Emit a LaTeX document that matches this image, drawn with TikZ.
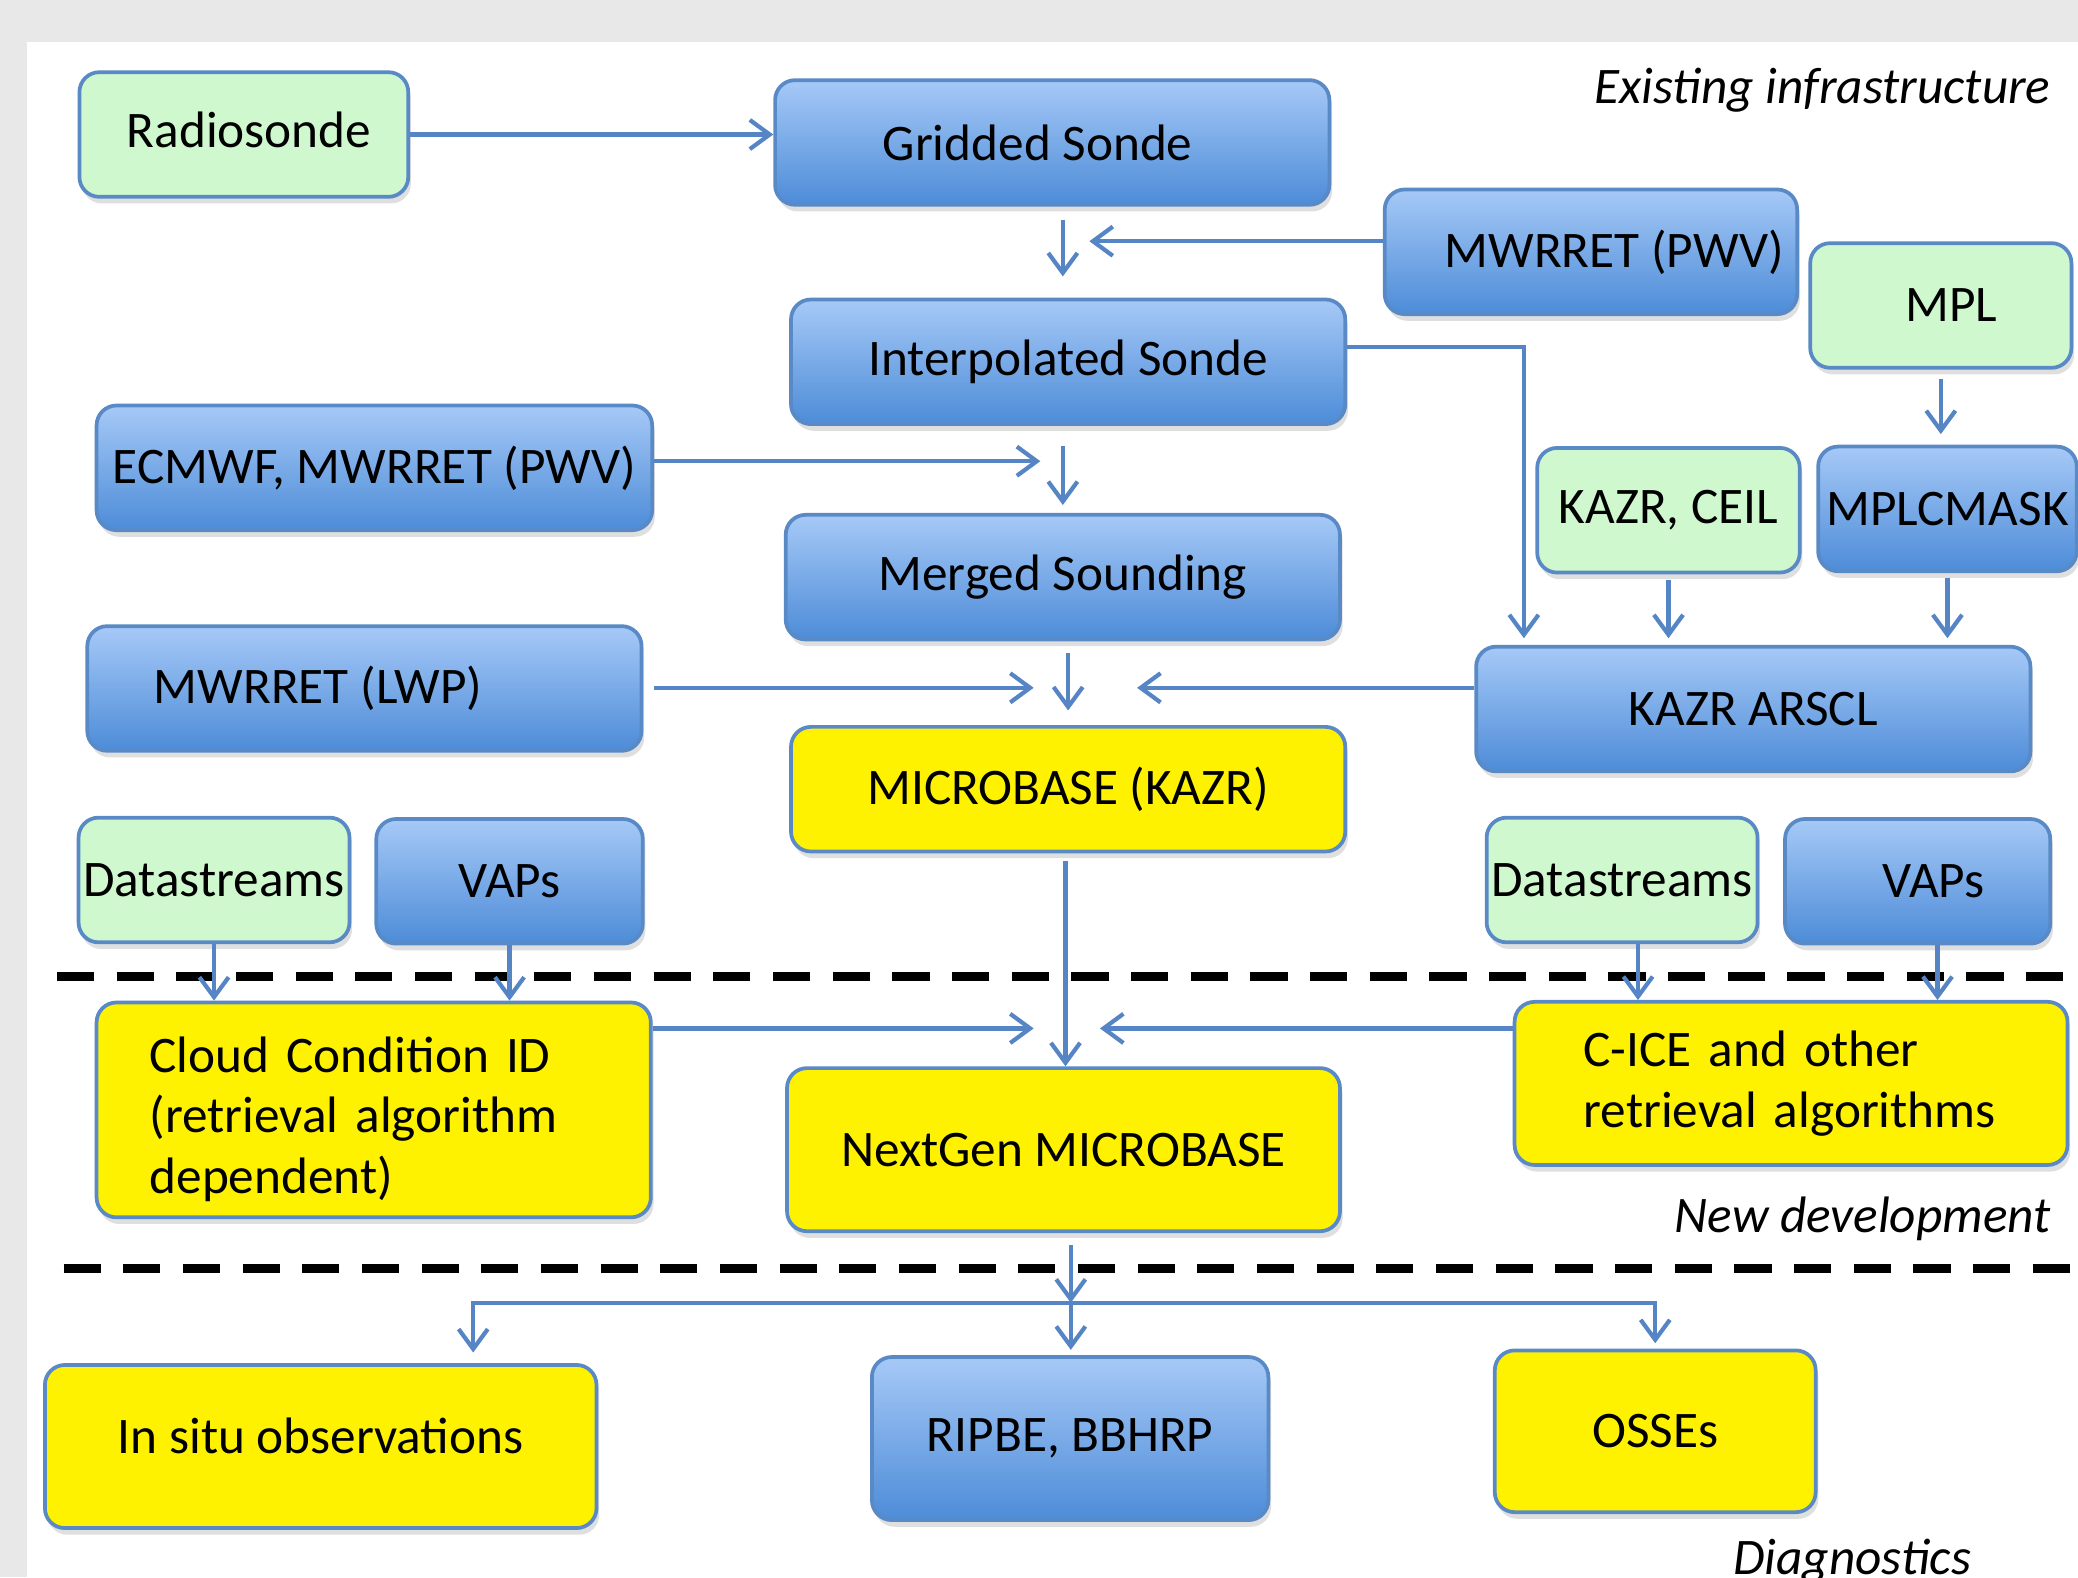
\documentclass[tikz,border=0pt]{standalone}
\usepackage{fontspec}
\setmainfont{Carlito}
\usetikzlibrary{arrows.meta,shadows}

\definecolor{boxedge}{HTML}{5A8AC6}
\definecolor{bluetop}{HTML}{A6C9F7}
\definecolor{bluebot}{HTML}{4D8CD8}
\definecolor{greenfill}{HTML}{CFF8CF}
\definecolor{flow}{HTML}{5585C5}
\definecolor{framegray}{HTML}{E8E8E8}

\begin{document}
\begin{tikzpicture}[x=0.01cm,y=-0.01cm,
  font=\fontsize{11}{13}\selectfont,
  box/.style={rectangle,rounded corners=0.15cm,draw=boxedge,line width=0.8pt,align=center,inner xsep=1pt,minimum height=0.94cm,drop shadow={opacity=0.25,shadow xshift=0.02cm,shadow yshift=-0.05cm}},
  vap/.style={box,top color=bluetop,bottom color=bluebot},
  stream/.style={box,fill=greenfill},
  product/.style={box,fill=yellow},
  arrow/.style={-{Straight Barb[length=1.5mm,width=2.2mm]},line width=0.9pt,draw=flow},
  divider/.style={line width=2pt,dash pattern=on 0.28cm off 0.17cm},
  note/.style={font=\fontsize{11}{13}\selectfont\itshape,anchor=east,inner sep=0pt}
]

% Rahmen
\useasboundingbox (0,0) rectangle (1568,1190);
\fill[framegray] (0,0) rectangle (1568,1190);
\fill[white] (20,32) rectangle (1568,1190);

% Existing infrastructure
\node[stream,minimum width=2.48cm] (radio) at (184,101.5) {\hspace*{0.08cm}\raisebox{0.08cm}{Radiosonde}};
\node[vap,minimum width=4.18cm] (gridded) at (794,107.5) {Gridded Sonde\hspace*{0.22cm}};
\node[vap,minimum width=3.11cm] (mwrpwv) at (1200.5,190) {\hspace*{0.35cm}MWRRET (PWV)};
\node[stream,minimum width=1.97cm] (mpl) at (1464.5,230.5) {\hspace*{0.16cm}MPL};
\node[vap,minimum width=4.18cm] (interp) at (806,273) {Interpolated Sonde};
\node[vap,minimum width=4.19cm] (ecmwf) at (282.5,353) {ECMWF, MWRRET (PWV)};
\node[stream,minimum width=1.98cm] (kazrceil) at (1259,385) {KAZR, CEIL};
\node[vap,minimum width=1.95cm] (mplcmask) at (1469.5,384) {MPLCMASK};
\node[vap,minimum width=4.18cm] (merged) at (802,435.5) {Merged Sounding};
\node[vap,minimum width=4.18cm] (mwrlwp) at (275,519.5) {MWRRET (LWP)\hspace*{0.7cm}};
\node[vap,minimum width=4.18cm] (arscl) at (1323,535) {KAZR ARSCL};
\node[product,minimum width=4.18cm] (microbase) at (806,595.5) {MICROBASE (KAZR)};
\node[stream,minimum width=2.03cm] (dsl) at (161.5,664) {Datastreams};
\node[vap,minimum width=2.01cm] (vapl) at (384.5,665) {VAPs};
\node[stream,minimum width=2.04cm] (dsr) at (1224,664) {Datastreams};
\node[vap,minimum width=2.0cm] (vapr) at (1447,665) {\hspace*{0.24cm}VAPs};

% New development
\node[product,text width=3.38cm,inner xsep=0.4cm,align=left,minimum height=1.59cm] (ccid) at (282,837.5) {\rule{0pt}{0.41cm}Cloud Condition ID\\(retrieval algorithm\\dependent)};
\node[product,minimum width=4.17cm,minimum height=1.23cm] (nextgen) at (802.5,867.5) {NextGen MICROBASE};
\node[product,text width=3.13cm,inner xsep=0.52cm,align=left,minimum height=1.23cm] (cice) at (1351.5,817.5) {C-ICE and other\\retrieval algorithms};

% Diagnostics
\node[product,minimum width=4.16cm,minimum height=1.23cm] (insitu) at (242,1091.5) {\raisebox{0.16cm}{In situ observations}};
\node[vap,minimum width=2.99cm,minimum height=1.23cm] (ripbe) at (807.5,1085.5) {RIPBE, BBHRP};
\node[product,minimum width=2.42cm,minimum height=1.22cm] (osses) at (1249,1080) {OSSEs};

% Bereichsnamen und Trennlinien
\node[note] (existing) at (1548,68) {Existing infrastructure};
\node[note] (newdev) at (1548,920) {New development};
\node[note] (diag) at (1488,1178) {Diagnostics};
\draw[divider] (43,737) -- (1568,737);
\draw[divider] (48,957) -- (1568,957);

% Sammelpunkte
\coordinate (pwvjoin) at (802,182);
\coordinate (ecjoin) at (802,348);
\coordinate (lwpjoin) at (806,519);
\coordinate (algjoin) at (804,776);
\coordinate (split) at (808,983);
\coordinate (dsrout) at ([xshift=0.12cm]dsr.south);
\coordinate (vaprout) at ([xshift=0.15cm]vapr.south);

% Sondenkette
\draw[arrow] (radio.east) -- (radio.east -| gridded.west);
\draw[arrow,shorten <=0.1cm,shorten >=0.16cm] (gridded.south -| pwvjoin) -- (interp.north -| pwvjoin);
\draw[arrow,shorten >=0.2cm] (mwrpwv.west |- pwvjoin) -- (pwvjoin);
\draw[arrow,shorten >=0.05cm] ([yshift=0.11cm]interp.east) -| ([xshift=-1.73cm]arscl.north);
\draw[arrow,shorten >=0.17cm] (ecmwf.east |- ecjoin) -- (ecjoin);
\draw[arrow,shorten <=0.15cm,shorten >=0.06cm] (interp.south -| ecjoin) -- (merged.north -| ecjoin);

% Wolkenmaske
\draw[arrow,shorten <=0.07cm,shorten >=0.08cm] (mpl.south) -- (mpl.south |- mplcmask.north);
\draw[arrow,shorten <=0.04cm,shorten >=0.05cm] (kazrceil.south) -- (kazrceil.south |- arscl.north);
\draw[arrow,shorten <=0.04cm,shorten >=0.05cm] (mplcmask.south) -- (mplcmask.south |- arscl.north);

% MICROBASE
\draw[arrow,shorten <=0.08cm,shorten >=0.26cm] (mwrlwp.east |- lwpjoin) -- (lwpjoin);
\draw[arrow,shorten >=0.52cm] (arscl.west |- lwpjoin) -- (lwpjoin);
\draw[arrow,shorten <=0.09cm,shorten >=0.11cm] (merged.south -| lwpjoin) -- (microbase.north -| lwpjoin);
\draw[arrow,shorten <=0.06cm] (microbase.south -| algjoin) -- (nextgen.north -| algjoin);

% Neue Algorithmen
\draw[arrow] (dsl.south) -- (dsl.south |- ccid.north);
\draw[arrow] (vapl.south) -- (vapl.south |- ccid.north);
\draw[arrow] (dsrout) -- (dsrout |- cice.north);
\draw[arrow] (vaprout) -- (vaprout |- cice.north);
\draw[arrow,shorten >=0.24cm] (ccid.east |- algjoin) -- (algjoin);
\draw[arrow,shorten >=0.26cm] (cice.west |- algjoin) -- (algjoin);

% Diagnostik
\draw[arrow,shorten <=0.09cm] (nextgen.south -| split) -- (split);
\draw[arrow,shorten >=0.08cm] (split) -| ([xshift=1.15cm]insitu.north);
\draw[arrow,shorten >=0.04cm] (split) -- (split |- ripbe.north);
\draw[arrow,shorten >=0.04cm] (split) -| (osses.north);

\end{tikzpicture}
\end{document}
